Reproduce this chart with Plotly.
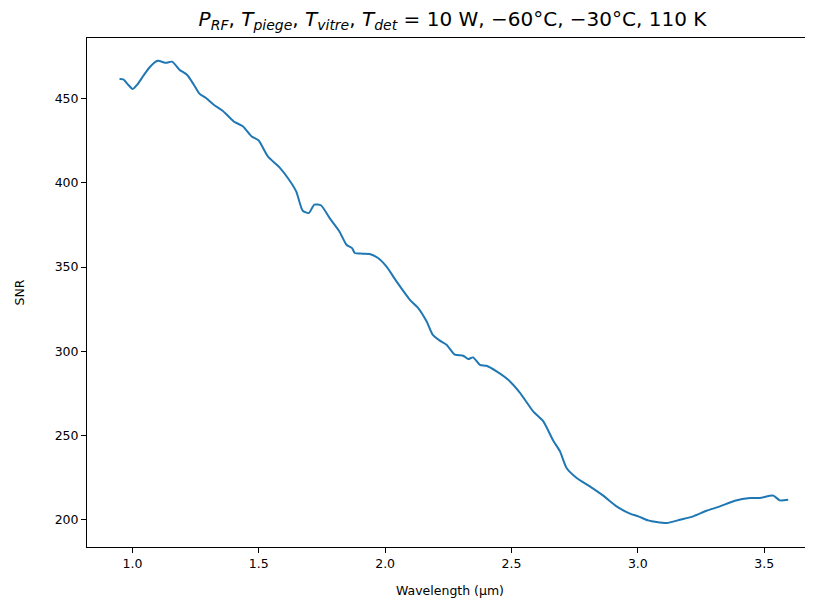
import plotly.graph_objects as go

wavelength = [0.949, 0.964, 0.985, 1.001, 1.020, 1.045, 1.070, 1.100, 1.133, 1.157, 1.186, 1.216, 1.243, 1.265,
              1.291, 1.322, 1.357, 1.401, 1.437, 1.472, 1.499, 1.536, 1.582, 1.615, 1.648, 1.674, 1.698,
              1.720, 1.747, 1.780, 1.819, 1.847, 1.869, 1.880, 1.910, 1.939, 1.972, 2.005, 2.045, 2.098,
              2.131, 2.164, 2.188, 2.215, 2.243, 2.276, 2.309, 2.329, 2.348, 2.375, 2.401, 2.441, 2.487,
              2.533, 2.586, 2.626, 2.665, 2.692, 2.718, 2.758, 2.810, 2.863, 2.916, 2.969, 3.002, 3.041,
              3.074, 3.114, 3.167, 3.219, 3.272, 3.325, 3.384, 3.444, 3.483, 3.536, 3.562, 3.595]
snr = [461.7, 461.5, 458.0, 455.8, 458.5, 464.0, 469.0, 472.5, 471.3, 472.0, 467.2, 464.2, 458.3, 453.0,
       450.4, 446.4, 442.9, 436.5, 433.6, 427.6, 425.3, 415.7, 409.2, 402.9, 395.0, 383.5, 382.1,
       387.1, 386.6, 379.2, 371.2, 363.3, 361.3, 358.4, 358.0, 357.8, 355.4, 350.4, 341.5, 330.6,
       325.7, 317.8, 309.9, 306.5, 303.9, 298.0, 297.4, 295.4, 296.4, 292.0, 291.4, 288.1, 283.1,
       275.5, 264.3, 258.4, 247.0, 240.6, 230.7, 224.8, 219.8, 214.3, 207.9, 203.6, 202.0, 199.6,
       198.6, 198.0, 200.0, 202.0, 205.3, 207.9, 211.3, 212.9, 212.9, 214.3, 211.5, 211.9]

x_ticks = [1.0, 1.5, 2.0, 2.5, 3.0, 3.5]
y_ticks = [200, 250, 300, 350, 400, 450]

title_text = ("<i>P</i><sub><i>RF</i></sub>, <i>T</i><sub><i>piege</i></sub>, "
              "<i>T</i><sub><i>vitre</i></sub>, <i>T</i><sub><i>det</i></sub> = 10 W, "
              "\u221260\u00b0C, \u221230\u00b0C, 110 K")

fig = go.Figure()
fig.add_trace(go.Scatter(x=wavelength, y=snr, mode="lines",
                         line=dict(color="#1f77b4", width=2, shape="spline", smoothing=0.6),
                         showlegend=False))

font = "DejaVu Sans, sans-serif"
W, H = 805, 590
fig.update_layout(
    width=W, height=H,
    margin=dict(l=79, r=0, t=30, b=51),
    paper_bgcolor="white", plot_bgcolor="white",
    font=dict(family=font, size=12.5, color="black"),
    title=dict(text=title_text, x=(452.5 - 8) / W, xref="container", xanchor="center",
               y=1 - (19 - 8) / H, yref="container", yanchor="middle",
               font=dict(family=font, size=20, color="black")),
    xaxis=dict(range=[0.8203, 3.6932], tickvals=x_ticks, ticktext=[f"{v:.1f}" for v in x_ticks],
               showgrid=False, zeroline=False, showline=True, linecolor="black", linewidth=1,
               mirror=True, ticks="outside", ticklen=5, tickcolor="black",
               title=dict(text="Wavelength (\u00b5m)", standoff=17, font=dict(size=12.5))),
    yaxis=dict(range=[183.8, 486.05], tickvals=y_ticks, showgrid=False, zeroline=False,
               showline=True, linecolor="black", linewidth=1, ticks="outside", ticklen=5,
               tickcolor="black",
               title=dict(text="SNR", standoff=27, font=dict(size=12.5))),
)

fig.write_html("out.html")
